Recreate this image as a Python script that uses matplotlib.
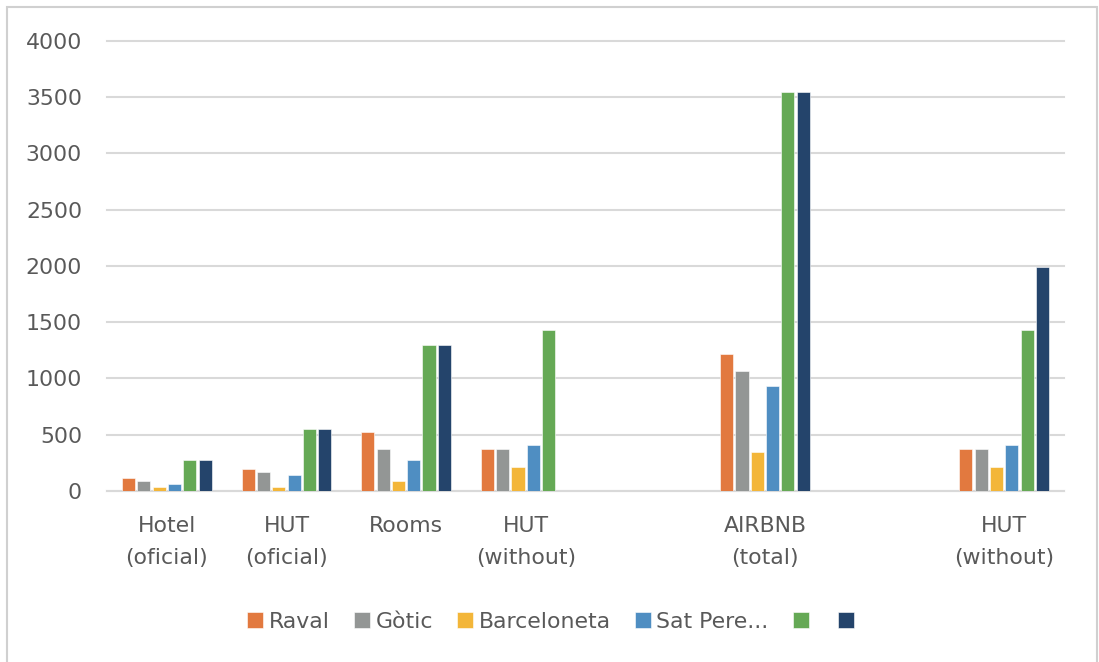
import numpy as np
import matplotlib
matplotlib.use("Agg")
from matplotlib import pyplot as plt
from matplotlib.patches import Rectangle

nan = np.nan

# categories (blank slots keep the wide gaps seen in the original)
categories = ["Hotel\n(oficial)", "HUT\n(oficial)", "Rooms", "HUT\n(without)",
              "", "AIRBNB\n(total)", "", "HUT\n(without)"]

series_names = ["Raval", "Gòtic", "Barceloneta", "Sat Pere...", "", ""]

raval       = [118, 195, 523, 376, nan, 1220, nan, 376]
gotic       = [89, 168, 376, 376, nan, 1063, nan, 376]
barceloneta = [35, 35, 89, 215, nan, 350, nan, 215]
sat_pere    = [62, 142, 277, 408, nan, 930, nan, 408]
green_serie = [278, 547, 1298, 1430, nan, 3545, nan, 1430]
navy_serie  = [278, 547, 1298, nan, nan, 3545, nan, 1990]

colors = ["#E2793F", "#939695", "#F3B639", "#4F8EC2", "#65A955", "#24446B"]

text_color = "#595959"
grid_color = "#D9D9D9"

plt.rcParams["font.family"] = "DejaVu Sans"
plt.rcParams["font.size"] = 15.8

fig = plt.figure(figsize=(10.99, 6.62), dpi=100)
ax = fig.add_axes([107 / 1099, 1 - 491 / 662, (1064 - 107) / 1099, (491 - 40.7) / 662])

all_series = [raval, gotic, barceloneta, sat_pere, green_serie, navy_serie]
x = np.arange(len(categories))
pitch = 0.128
handles = []
for i, vals in enumerate(all_series):
    offset = (i - 2.5) * pitch
    b = ax.bar(x + offset, vals, width=0.11, color=colors[i],
               edgecolor="white", linewidth=0.4, zorder=3)
    handles.append(b)

ax.set_xlim(-0.5, len(categories) - 0.5)
ax.set_ylim(0, 4000)
ax.set_yticks(range(0, 4001, 500))
ax.set_xticks(x)
ax.set_xticklabels(categories, linespacing=1.75)

ax.grid(axis="y", color=grid_color, linewidth=1.5, zorder=0)
for gl in ax.get_ygridlines():
    gl.set_clip_on(False)
for side in ["top", "right", "left"]:
    ax.spines[side].set_visible(False)
ax.spines["bottom"].set_color(grid_color)
ax.spines["bottom"].set_linewidth(1.5)
ax.tick_params(axis="x", length=0, pad=18, colors=text_color)
ax.tick_params(axis="y", length=0, pad=18, colors=text_color)

fig.legend(handles, series_names, loc="center",
           bbox_to_anchor=(553.5 / 1099, 1 - 622 / 662), ncol=6,
           frameon=False, handlelength=0.73, handleheight=0.73, handletextpad=0.25,
           columnspacing=1.1, borderpad=0, labelcolor=text_color)

# outer chart frame
fig.add_artist(Rectangle((6.5 / 1099, -0.1), (1096.5 - 6.5) / 1099, 1.1 - 7 / 662,
                         transform=fig.transFigure, fill=False,
                         edgecolor="#D0D0D0", linewidth=1.5))

plt.savefig("out.png", dpi=100)
